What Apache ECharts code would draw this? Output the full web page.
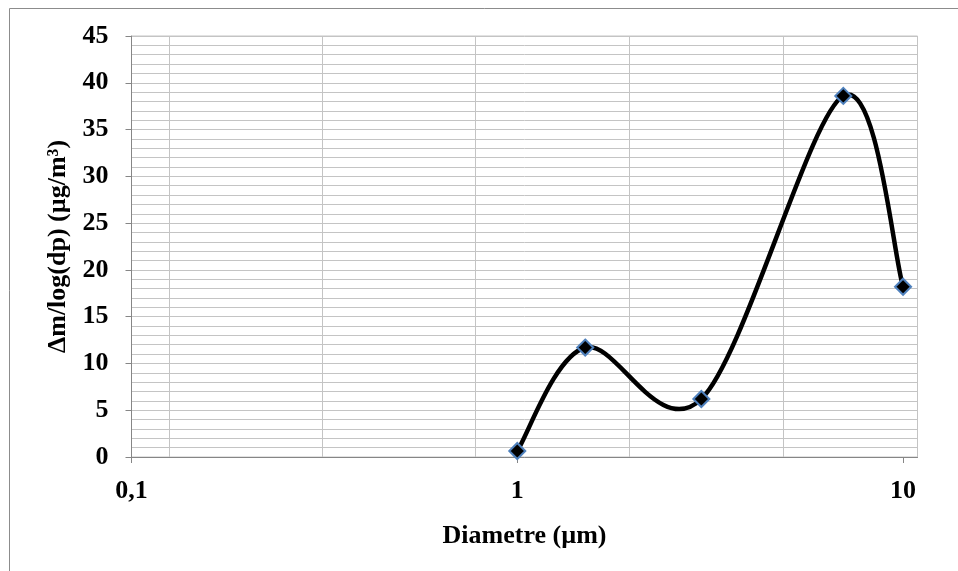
<!DOCTYPE html>
<html>
<head>
<meta charset="utf-8">
<title>Δm/log(dp)</title>
<script src="https://cdn.jsdelivr.net/npm/echarts@6/dist/echarts.min.js"></script>
<style>
  html, body { margin: 0; padding: 0; background: #ffffff; }
  #chart { width: 958px; height: 571px; }
</style>
</head>
<body>
<div id="chart"></div>
<script>
// Particle diameters (µm) and mass size distribution Δm/log(dp) (µg/m³)
const diameters = [1, 1.5, 3, 7, 10];
const massDist = [0.64, 11.7, 6.2, 38.6, 18.2];

// Tick labels on the logarithmic diameter axis
const xTickValues = [0.1, 1, 10];
// Vertical grid lines of the plot area
const xGridValues = [0.125, 0.3125, 0.78, 1.95, 4.88];

const FONT = 'Liberation Serif';
const GRID_GREY = '#c4c4c4';
const AXIS_GREY = '#868686';
const textBold = { fontFamily: FONT, fontWeight: 'bold', fontSize: 26, color: '#000' };

const points = diameters.map((d, i) => [d, massDist[i]]);

// Smoothed curve: one cubic Bézier per segment, Catmull-Rom tangents
// computed in pixel space from the axis-converted data points.
function renderSpline(params, api) {
  const i = params.dataIndex;
  const n = points.length;
  if (i >= n - 1) return null;
  const px = k => api.coord(points[Math.max(0, Math.min(n - 1, k))]);
  const p0 = px(i - 1), p1 = px(i), p2 = px(i + 1), p3 = px(i + 2);
  return {
    type: 'bezierCurve',
    shape: {
      x1: p1[0], y1: p1[1],
      cpx1: p1[0] + (p2[0] - p0[0]) / 6, cpy1: p1[1] + (p2[1] - p0[1]) / 6,
      cpx2: p2[0] - (p3[0] - p1[0]) / 6, cpy2: p2[1] - (p3[1] - p1[1]) / 6,
      x2: p2[0], y2: p2[1]
    },
    style: { stroke: '#000000', lineWidth: 4.5, fill: null, lineCap: 'round' },
    silent: true
  };
}

const chart = echarts.init(document.getElementById('chart'), null, { renderer: 'canvas' });

chart.setOption({
  backgroundColor: '#ffffff',
  animation: false,
  graphic: [{
    type: 'rect',
    silent: true,
    shape: { x: 9.5, y: 8.5, width: 1000, height: 700 },
    style: { fill: 'none', stroke: '#8c8c8c', lineWidth: 1 }
  }],
  grid: {
    left: 131.5, top: 36, right: 40.5, bottom: 114,
    show: true, borderColor: GRID_GREY, borderWidth: 1,
    containLabel: false
  },
  xAxis: [{
    type: 'log',
    logBase: 10,
    min: 0.1,
    max: 10.9,
    name: 'Diametre (µm)',
    nameLocation: 'middle',
    nameGap: 66,
    nameTextStyle: textBold,
    axisLine: { show: true, lineStyle: { color: AXIS_GREY, width: 1 } },
    axisTick: { show: true, inside: false, length: 6, customValues: xTickValues, lineStyle: { color: AXIS_GREY } },
    axisLabel: Object.assign({
      customValues: xTickValues,
      margin: 21,
      formatter: v => String(v).replace('.', ',')
    }, textBold),
    splitLine: { show: false },
    minorSplitLine: { show: false }
  }, {
    type: 'log',
    logBase: 10,
    min: 0.1,
    max: 10.9,
    position: 'bottom',
    axisLine: { show: false },
    axisTick: { show: false, customValues: xGridValues },
    axisLabel: { show: false, customValues: xGridValues },
    splitLine: { show: true, lineStyle: { color: GRID_GREY, width: 1 } }
  }],
  yAxis: {
    type: 'value',
    min: 0,
    max: 45,
    interval: 5,
    name: 'Δm/log(dp) (µg/m³)',
    nameLocation: 'middle',
    nameGap: 56,
    nameRotate: 90,
    nameTextStyle: textBold,
    axisLine: { show: true, lineStyle: { color: AXIS_GREY, width: 1 } },
    axisTick: { show: true, inside: false, length: 6, lineStyle: { color: AXIS_GREY } },
    axisLabel: Object.assign({ margin: 23 }, textBold),
    splitLine: { show: true, lineStyle: { color: GRID_GREY, width: 1 } },
    minorTick: { show: false, splitNumber: 5 },
    minorSplitLine: { show: true, lineStyle: { color: GRID_GREY, width: 1 } }
  },
  series: [{
    type: 'custom',
    name: 'Δm/log(dp)',
    xAxisIndex: 0,
    data: points,
    encode: { x: 0, y: 1 },
    renderItem: renderSpline,
    clip: false,
    z: 4
  }, {
    type: 'scatter',
    name: 'Δm/log(dp)',
    xAxisIndex: 0,
    data: points,
    symbol: 'diamond',
    symbolSize: 16,
    itemStyle: { color: '#000000', borderColor: '#4f81bd', borderWidth: 2, opacity: 1 },
    z: 5
  }]
});
</script>
</body>
</html>
